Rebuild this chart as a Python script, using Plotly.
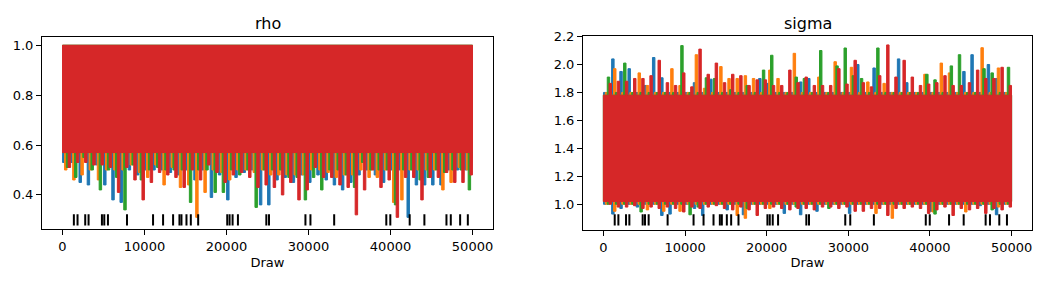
import plotly.graph_objects as go

# ---------------- data ----------------
n_draws = 50000
bin_size = 1000          # each value below = extreme of a chain within 1000 draws
chain_colors = ["#1f77b4", "#ff7f0e", "#2ca02c", "#d62728"]

# bulk range that every chain fills between its excursions
rho_bulk = (0.57, 1.0)
sigma_bulk = (1.02, 1.78)

rho_low_c0 = [0.53, 0.53, 0.45, 0.44, 0.52, 0.44, 0.38, 0.37, 0.50, 0.48,
              0.50, 0.50, 0.50, 0.49, 0.48, 0.50, 0.46, 0.50, 0.39, 0.48,
              0.38, 0.47, 0.49, 0.50, 0.36, 0.36, 0.46, 0.47, 0.45, 0.48,
              0.45, 0.48, 0.46, 0.44, 0.42, 0.45, 0.48, 0.50, 0.48, 0.45,
              0.50, 0.50, 0.31, 0.44, 0.44, 0.44, 0.44, 0.50, 0.50, 0.50]
rho_low_c1 = [0.50, 0.46, 0.48, 0.50, 0.46, 0.50, 0.50, 0.50, 0.52, 0.49,
              0.47, 0.52, 0.44, 0.51, 0.43, 0.44, 0.31, 0.41, 0.50, 0.49,
              0.46, 0.50, 0.50, 0.49, 0.50, 0.48, 0.48, 0.48, 0.48, 0.48,
              0.50, 0.50, 0.49, 0.47, 0.48, 0.48, 0.50, 0.47, 0.47, 0.50,
              0.37, 0.38, 0.50, 0.50, 0.50, 0.50, 0.42, 0.45, 0.51, 0.50]
rho_low_c2 = [0.51, 0.47, 0.55, 0.50, 0.42, 0.50, 0.47, 0.34, 0.52, 0.46,
              0.50, 0.51, 0.50, 0.50, 0.50, 0.37, 0.50, 0.50, 0.41, 0.41,
              0.50, 0.48, 0.50, 0.35, 0.50, 0.50, 0.50, 0.47, 0.47, 0.38,
              0.47, 0.42, 0.50, 0.50, 0.48, 0.43, 0.53, 0.50, 0.50, 0.50,
              0.36, 0.50, 0.50, 0.46, 0.47, 0.50, 0.49, 0.50, 0.50, 0.42]
rho_low_c3 = [0.51, 0.53, 0.53, 0.52, 0.52, 0.51, 0.41, 0.51, 0.46, 0.38,
              0.45, 0.49, 0.48, 0.47, 0.43, 0.50, 0.46, 0.52, 0.49, 0.45,
              0.48, 0.49, 0.47, 0.43, 0.44, 0.43, 0.40, 0.45, 0.38, 0.42,
              0.51, 0.47, 0.47, 0.44, 0.43, 0.32, 0.42, 0.50, 0.43, 0.46,
              0.31, 0.47, 0.47, 0.38, 0.47, 0.47, 0.49, 0.45, 0.45, 0.48]

sigma_high_c0 = [1.80, 2.04, 1.95, 1.97, 1.80, 1.85, 2.05, 1.905, 1.80, 1.80,
                 1.80, 1.87, 1.80, 1.895, 1.80, 1.80, 1.80, 1.80, 1.80, 1.90,
                 1.865, 1.80, 1.80, 1.80, 1.875, 1.90, 1.80, 1.80, 1.80, 1.80,
                 1.80, 2.00, 1.80, 1.975, 1.80, 1.80, 2.04, 1.87, 1.80, 1.80,
                 1.80, 1.80, 1.80, 1.80, 1.95, 2.07, 1.80, 2.00, 1.90, 1.80]
sigma_high_c1 = [1.80, 1.97, 1.80, 1.80, 1.94, 1.85, 1.80, 1.80, 1.97, 1.85,
                 1.80, 2.07, 1.83, 1.80, 1.985, 1.90, 1.90, 1.92, 1.90, 1.80,
                 1.96, 1.90, 1.80, 2.08, 1.80, 1.80, 1.91, 1.80, 2.02, 1.80,
                 1.98, 1.80, 1.875, 1.80, 1.865, 1.80, 1.80, 1.80, 1.80, 1.93,
                 1.80, 2.01, 1.94, 1.80, 1.80, 1.80, 2.12, 1.80, 1.975, 1.80]
sigma_high_c2 = [1.91, 1.80, 2.01, 1.80, 1.80, 1.80, 1.80, 1.80, 1.80, 2.135,
                 1.80, 1.80, 1.905, 1.90, 1.80, 1.82, 1.80, 1.85, 1.80, 1.96,
                 2.066, 1.80, 1.80, 1.91, 1.90, 1.80, 2.10, 1.80, 1.99, 2.118,
                 1.92, 1.90, 1.80, 2.118, 1.80, 1.80, 1.80, 1.80, 1.80, 1.93,
                 1.89, 1.80, 1.99, 2.07, 1.80, 1.80, 1.97, 1.94, 1.80, 1.98]
sigma_high_c3 = [1.865, 1.88, 1.88, 1.90, 1.90, 1.92, 2.03, 1.87, 1.85, 1.94,
                 1.84, 2.11, 1.93, 2.01, 1.87, 1.93, 1.92, 1.85, 1.89, 1.89,
                 1.85, 1.85, 1.96, 1.87, 1.91, 1.85, 1.85, 1.85, 1.97, 1.86,
                 2.03, 1.87, 1.84, 1.92, 2.14, 1.91, 2.03, 1.91, 1.85, 1.86,
                 1.87, 1.92, 1.85, 1.85, 1.87, 1.96, 1.90, 1.90, 1.98, 1.85]

sigma_low_c0 = [1.00, 0.93, 0.97, 1.00, 0.98, 1.00, 1.00, 0.92, 0.93, 1.00,
                1.00, 0.97, 0.92, 1.00, 1.00, 0.96, 1.00, 0.925, 1.00, 1.00,
                1.00, 1.00, 0.935, 1.00, 0.925, 1.00, 0.95, 1.00, 1.00, 1.00,
                0.935, 1.00, 1.00, 1.00, 1.00, 1.00, 1.00, 1.00, 1.00, 1.00,
                0.95, 1.00, 1.00, 1.00, 1.00, 1.00, 0.99, 1.00, 0.925, 1.00]
sigma_low_c1 = [1.00, 0.95, 1.00, 1.00, 1.00, 0.96, 1.00, 0.95, 1.00, 0.95,
                1.00, 1.00, 1.00, 1.00, 1.00, 1.00, 0.92, 0.90, 1.00, 1.00,
                0.97, 1.00, 1.00, 1.00, 1.00, 1.00, 1.00, 1.00, 1.00, 1.00,
                1.00, 1.00, 1.00, 0.935, 1.00, 0.90, 1.00, 1.00, 1.00, 1.00,
                0.945, 1.00, 1.00, 1.00, 0.945, 1.00, 1.00, 1.00, 0.98, 1.00]
sigma_low_c2 = [1.00, 1.00, 1.00, 1.00, 0.945, 1.00, 1.00, 1.00, 1.00, 1.00,
                0.925, 0.98, 1.00, 1.00, 1.00, 1.00, 1.00, 0.97, 1.00, 1.00,
                1.00, 1.00, 1.00, 0.98, 1.00, 1.00, 1.00, 0.97, 1.00, 1.00,
                1.00, 1.00, 1.00, 1.00, 1.00, 1.00, 1.00, 1.00, 1.00, 1.00,
                0.93, 1.00, 1.00, 1.00, 1.00, 1.00, 1.00, 0.96, 1.00, 1.00]
sigma_low_c3 = [1.00, 0.98, 0.98, 0.99, 0.97, 0.98, 0.97, 0.98, 0.97, 0.945,
                0.98, 0.97, 0.98, 0.99, 0.97, 0.96, 0.98, 0.96, 0.92, 0.97,
                0.98, 0.97, 0.96, 0.97, 0.97, 0.96, 0.98, 0.98, 0.97, 0.98,
                0.95, 0.95, 0.97, 0.97, 0.92, 0.97, 0.97, 0.98, 0.97, 0.935,
                0.96, 0.98, 0.92, 0.97, 0.96, 0.97, 0.935, 0.97, 0.96, 0.98]

# draws of divergent transitions (rug marks)
divergent_draws = [1386, 1834, 2771, 3179, 4809, 5094, 5542, 7865, 11043, 12266,
                   13488, 14263, 14507, 15118, 15648, 16545, 20090, 20375, 20742,
                   21394, 24857, 25183, 29625, 30236, 33130, 39487, 39976, 42339,
                   44132, 46822, 47351, 48492, 49430]
rug_rho = 0.30
rug_sigma = 0.888

x_ticks = [0, 10000, 20000, 30000, 40000, 50000]
rho_ticks = [0.4, 0.6, 0.8, 1.0]
sigma_ticks = [1.0, 1.2, 1.4, 1.6, 1.8, 2.0, 2.2]

rho_lows = [rho_low_c0, rho_low_c1, rho_low_c2, rho_low_c3]
sigma_lows = [sigma_low_c0, sigma_low_c1, sigma_low_c2, sigma_low_c3]
sigma_highs = [sigma_high_c0, sigma_high_c1, sigma_high_c2, sigma_high_c3]

# where, inside a bin, each chain's excursion is drawn (fraction of the bin)
spike_pos = [0.16, 0.39, 0.62, 0.84]
SPIKE_HALF = 0.15


def band(low, high, bulk, pos):
    """Closed polygon: chain's bulk range plus a narrow excursion to each bin's extreme."""
    b_lo, b_hi = bulk
    xs_u, ys_u, xs_l, ys_l = [], [], [], []
    for i, (lo, hi) in enumerate(zip(low, high)):
        x0 = i * bin_size
        x1 = min((i + 1) * bin_size, n_draws - 1)
        xa = x0 + (pos - SPIKE_HALF) * bin_size
        xb = x0 + (pos + SPIKE_HALF) * bin_size
        uh = min(b_hi, hi)
        ll = max(b_lo, lo)
        xs_u += [x0, xa, xa, xb, xb, x1]
        ys_u += [uh, uh, hi, hi, uh, uh]
        xs_l += [x0, xa, xa, xb, xb, x1]
        ys_l += [ll, ll, lo, lo, ll, ll]
    return xs_u + xs_l[::-1] + [xs_u[0]], ys_u + ys_l[::-1] + [ys_u[0]]


fig = go.Figure()
for c in range(4):
    x, y = band(rho_lows[c], [rho_bulk[1]] * len(rho_lows[c]), rho_bulk, spike_pos[c])
    fig.add_trace(go.Scatter(x=x, y=y, mode="lines", fill="toself",
                             fillcolor=chain_colors[c],
                             line=dict(color=chain_colors[c], width=1),
                             xaxis="x", yaxis="y", showlegend=False,
                             hoverinfo="skip"))
for c in range(4):
    x, y = band(sigma_lows[c], sigma_highs[c], sigma_bulk, spike_pos[c])
    fig.add_trace(go.Scatter(x=x, y=y, mode="lines", fill="toself",
                             fillcolor=chain_colors[c],
                             line=dict(color=chain_colors[c], width=1),
                             xaxis="x2", yaxis="y2", showlegend=False,
                             hoverinfo="skip"))

rug_marker = dict(symbol="line-ns", size=8, line=dict(color="black", width=2))
fig.add_trace(go.Scatter(x=divergent_draws, y=[rug_rho] * len(divergent_draws),
                         mode="markers", marker=rug_marker, xaxis="x", yaxis="y",
                         showlegend=False, hoverinfo="skip"))
fig.add_trace(go.Scatter(x=divergent_draws, y=[rug_sigma] * len(divergent_draws),
                         mode="markers", marker=rug_marker, xaxis="x2", yaxis="y2",
                         showlegend=False, hoverinfo="skip"))

W, H = 1045, 281
font = dict(family="DejaVu Sans", size=13, color="black")
axis_common = dict(showline=True, linecolor="black", linewidth=1, mirror=True,
                   ticks="outside", ticklen=5, tickcolor="black", showgrid=False,
                   zeroline=False, tickfont=font)
x_tick_text = [str(v) for v in x_ticks]

fig.update_layout(
    width=W, height=H, margin=dict(l=0, r=0, t=0, b=0),
    plot_bgcolor="white", paper_bgcolor="white", font=font,
    xaxis=dict(axis_common, domain=[42 / W, 493 / W], range=[-2500, 52499],
               tickvals=x_ticks, ticktext=x_tick_text,
               title=dict(text="Draw", font=font, standoff=4), anchor="y"),
    yaxis=dict(axis_common, domain=[1 - 228 / H, 1 - 31 / H], range=[0.262, 1.0325],
               tickvals=rho_ticks, ticktext=[f"{v:.1f}" for v in rho_ticks], anchor="x"),
    xaxis2=dict(axis_common, domain=[583 / W, 1032 / W], range=[-2500, 52499],
                tickvals=x_ticks, ticktext=x_tick_text,
                title=dict(text="Draw", font=font, standoff=4), anchor="y2"),
    yaxis2=dict(axis_common, domain=[1 - 229 / H, 1 - 30 / H], range=[0.814, 2.202],
                tickvals=sigma_ticks, ticktext=[f"{v:.1f}" for v in sigma_ticks],
                anchor="x2"),
    annotations=[
        dict(text="rho", x=(42 + 493) / 2 / W, y=1 - 17 / H, xref="paper", yref="paper",
             showarrow=False, font=dict(family="DejaVu Sans", size=16, color="black"),
             xanchor="center", yanchor="middle"),
        dict(text="sigma", x=(583 + 1032) / 2 / W, y=1 - 17 / H, xref="paper",
             yref="paper", showarrow=False,
             font=dict(family="DejaVu Sans", size=16, color="black"),
             xanchor="center", yanchor="middle"),
    ],
)

fig.write_html("out.html")
